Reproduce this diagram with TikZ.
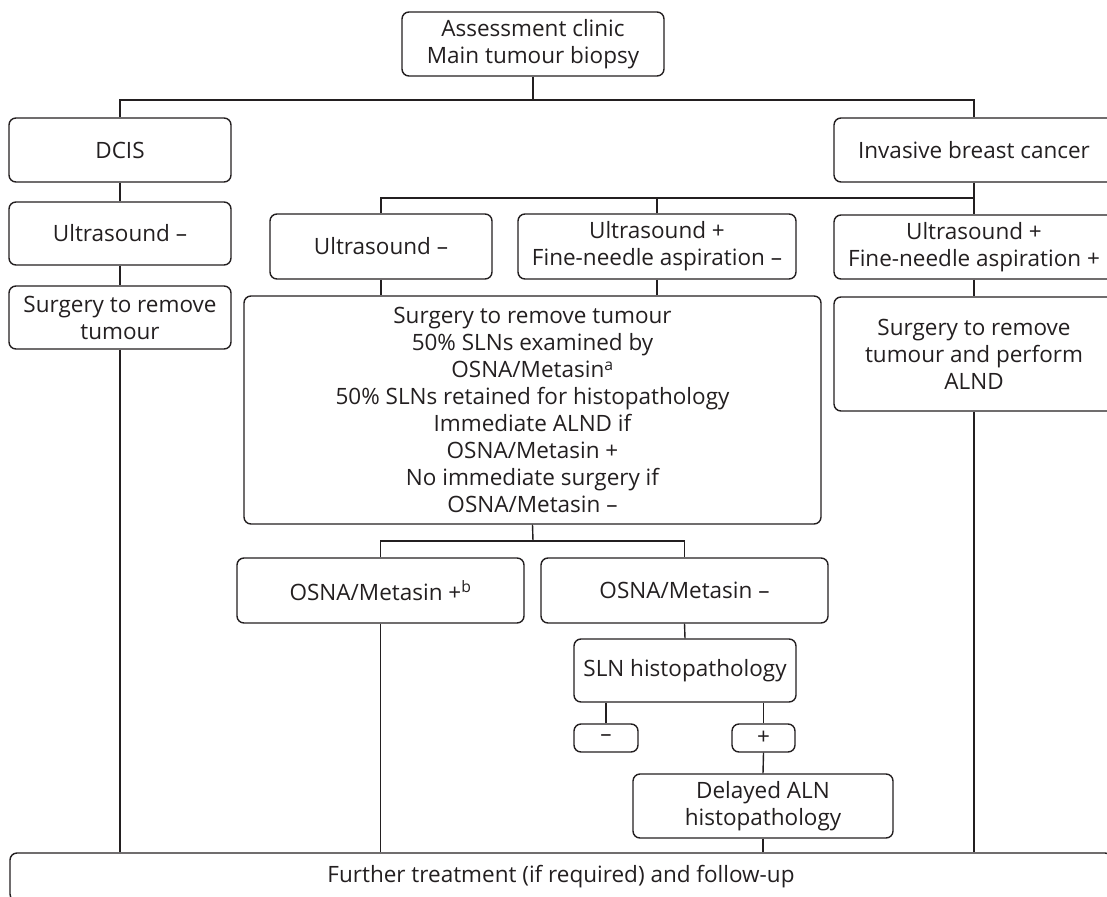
\documentclass[tikz,border=0pt]{standalone}
\usepackage{fontspec}
\setmainfont{Open Sans}
\definecolor{ink}{RGB}{35,31,32}
\begin{document}
\begin{tikzpicture}[x=1pt,y=-1pt,
  box/.style={draw=ink, line width=1.4pt, rounded corners=7pt, align=center,
    inner sep=0pt, text=ink, font=\fontsize{22.5}{27}\selectfont},
  link/.style={draw=ink, line width=1.4pt}]
\useasboundingbox (0,0) rectangle (1107,896);
\clip (0,0) rectangle (1107,896);
\node[box, minimum width=262pt, minimum height=64pt] (top) at (533,44) {Assessment clinic\\Main tumour biopsy};
\node[box, minimum width=222pt, minimum height=64pt] (dcis) at (120,150) {DCIS};
\node[box, minimum width=280pt, minimum height=64pt] (inv) at (974,150) {Invasive breast cancer};
\node[box, minimum width=222pt, minimum height=63pt] (us1) at (120,233.5) {Ultrasound –};
\node[box, minimum width=222pt, minimum height=63pt] (surg1) at (120,317.5) {Surgery to remove\\tumour};
\node[box, minimum width=222pt, minimum height=65pt] (us2) at (381,246.5) {Ultrasound –};
\node[box, minimum width=278pt, minimum height=65pt] (fnam) at (657,246.5) {Ultrasound +\\Fine-needle aspiration –};
\node[box, minimum width=280pt, minimum height=64pt] (fnap) at (974,247) {Ultrasound +\\Fine-needle aspiration +};
\node[box, minimum width=280pt, minimum height=114pt] (surg3) at (974,354) {Surgery to remove\\tumour and perform\\ALND};
\node[box, minimum width=577pt, minimum height=228pt] (big) at (532.5,410) {Surgery to remove tumour\\50\% SLNs examined by\\OSNA/Metasin\textsuperscript{a}\\50\% SLNs retained for histopathology\\Immediate ALND if\\OSNA/Metasin +\\No immediate surgery if\\OSNA/Metasin –};
\node[box, minimum width=287pt, minimum height=65pt] (osnap) at (380.5,590.5) {OSNA/Metasin +\textsuperscript{b}};
\node[box, minimum width=287pt, minimum height=65pt] (osnam) at (684.5,590.5) {OSNA/Metasin –};
\node[box, minimum width=222pt, minimum height=63pt] (sln) at (685,670.5) {SLN histopathology};
\node[box, minimum width=64pt, minimum height=28pt] (neg) at (606,738) {–};
\node[box, minimum width=63pt, minimum height=28pt] (pos) at (763.5,738) {+};
\node[box, minimum width=260pt, minimum height=64pt] (delayed) at (763,806) {Delayed ALN\\histopathology};
\node[box, minimum width=1102pt, minimum height=48pt] (bottom) at (561,877) {Further treatment (if required) and follow-up};
% connectors
\coordinate (j1) at (533,100);
\coordinate (j2) at (974,198);
\coordinate (j3) at (533,541);
\draw[link] (top.south) -- (j1);
\draw[link] (dcis.north) |- (j1) -| (inv.north);
\draw[link] (dcis.south) -- (us1.north);
\draw[link] (us1.south) -- (surg1.north);
\draw[link] (surg1.south) -- (surg1.south |- bottom.north);
\draw[link] (inv.south) -- (fnap.north);
\draw[link] (us2.north) |- (j2);
\draw[link] (fnam.north) -- (fnam.north |- j2);
\draw[link] (us2.south) -- (us2.south |- big.north);
\draw[link] (fnam.south) -- (fnam.south |- big.north);
\draw[link] (fnap.south) -- (surg3.north);
\draw[link] (surg3.south) -- (surg3.south |- bottom.north);
\draw[link] (big.south) -- (j3);
\draw[link] (osnap.north) |- (j3) -| (osnam.north);
\draw[link] (osnap.south) -- (osnap.south |- bottom.north);
\draw[link] (osnam.south) -- (sln.north);
\draw[link] (neg.north) -- (neg.north |- sln.south);
\draw[link] (pos.north) -- (pos.north |- sln.south);
\draw[link] (pos.south) -- (delayed.north);
\draw[link] (delayed.south) -- (bottom.north -| delayed.south);
\end{tikzpicture}
\end{document}
